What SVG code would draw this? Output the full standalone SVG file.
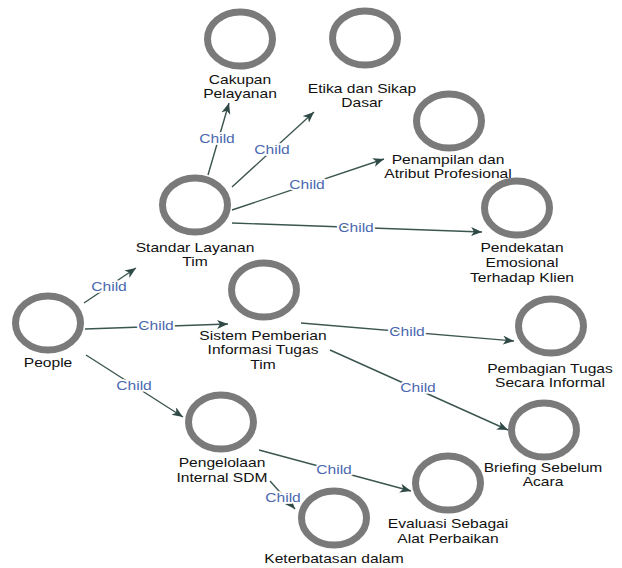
<svg xmlns="http://www.w3.org/2000/svg" width="622" height="568" viewBox="0 0 622 568">
<style>
.ring{fill:#fff;stroke:#7a7a7a;stroke-width:7}
.lbl{font-family:"Liberation Sans",Arial,sans-serif;font-size:13px;fill:#111;text-anchor:middle}
.edge{stroke:#3b5550;stroke-width:1.4;fill:none;marker-end:url(#arr)}
.el{font-family:"Liberation Sans",Arial,sans-serif;font-size:13px;fill:#4a68b0;text-anchor:middle;stroke:#fff;stroke-width:3.5;paint-order:stroke;stroke-linejoin:round}
</style>
<defs>
<marker id="arr" markerUnits="userSpaceOnUse" markerWidth="12" markerHeight="10" refX="11" refY="4.5" orient="auto">
<path d="M0,0 L11,4.5 L0,9 L3,4.5 z" fill="#2f4a46"/>
</marker>
</defs>
<rect width="622" height="568" fill="#fff"/>
<g id="connectors">
<line class="edge" x1="208" y1="175" x2="229" y2="103"/>
<line class="edge" x1="232" y1="187" x2="314" y2="112"/>
<line class="edge" x1="232" y1="210" x2="384" y2="159"/>
<line class="edge" x1="232" y1="223" x2="482" y2="232"/>
<line class="edge" x1="84" y1="303" x2="136" y2="268"/>
<line class="edge" x1="85" y1="329" x2="228" y2="324"/>
<line class="edge" x1="86" y1="355" x2="183" y2="417"/>
<line class="edge" x1="301" y1="323" x2="514" y2="341"/>
<line class="edge" x1="330" y1="350" x2="508" y2="430"/>
<line class="edge" x1="259" y1="450" x2="411" y2="491"/>
<line class="edge" x1="270" y1="481" x2="295" y2="509"/>
<text class="el" transform="translate(217 143) scale(1.2 1)">Child</text>
<text class="el" transform="translate(272 154) scale(1.2 1)">Child</text>
<text class="el" transform="translate(307 189) scale(1.2 1)">Child</text>
<text class="el" transform="translate(356 232) scale(1.2 1)">Child</text>
<text class="el" transform="translate(109 291) scale(1.2 1)">Child</text>
<text class="el" transform="translate(156 330) scale(1.2 1)">Child</text>
<text class="el" transform="translate(134 390) scale(1.2 1)">Child</text>
<text class="el" transform="translate(407 336) scale(1.2 1)">Child</text>
<text class="el" transform="translate(418 392) scale(1.2 1)">Child</text>
<text class="el" transform="translate(334 474) scale(1.2 1)">Child</text>
<text class="el" transform="translate(283 502) scale(1.2 1)">Child</text>
</g>
<g id="people"><ellipse class="ring" cx="48" cy="323" rx="32.5" ry="27"/><text class="lbl" transform="translate(48 367) scale(1.2 1)">People</text></g>
<g id="standar"><ellipse class="ring" cx="195" cy="205" rx="32.5" ry="27"/><text class="lbl" transform="translate(195 252) scale(1.2 1)"><tspan x="0">Standar Layanan</tspan><tspan x="0" dy="14">Tim</tspan></text></g>
<g id="cakupan"><ellipse class="ring" cx="240" cy="39" rx="32.5" ry="27"/><text class="lbl" transform="translate(240 84) scale(1.2 1)"><tspan x="0">Cakupan</tspan><tspan x="0" dy="14">Pelayanan</tspan></text></g>
<g id="etika"><ellipse class="ring" cx="365" cy="38" rx="32.5" ry="27"/><text class="lbl" transform="translate(362 93) scale(1.2 1)"><tspan x="0">Etika dan Sikap</tspan><tspan x="0" dy="14">Dasar</tspan></text></g>
<g id="penampilan"><ellipse class="ring" cx="449" cy="121" rx="32.5" ry="27"/><text class="lbl" transform="translate(448 164) scale(1.2 1)"><tspan x="0">Penampilan dan</tspan><tspan x="0" dy="14">Atribut Profesional</tspan></text></g>
<g id="pendekatan"><ellipse class="ring" cx="517" cy="208" rx="32.5" ry="27"/><text class="lbl" transform="translate(522 252) scale(1.2 1)"><tspan x="0">Pendekatan</tspan><tspan x="0" dy="15">Emosional</tspan><tspan x="0" dy="15">Terhadap Klien</tspan></text></g>
<g id="sistem"><ellipse class="ring" cx="264" cy="290" rx="32.5" ry="27"/><text class="lbl" transform="translate(263 340) scale(1.2 1)"><tspan x="0">Sistem Pemberian</tspan><tspan x="0" dy="14">Informasi Tugas</tspan><tspan x="0" dy="15">Tim</tspan></text></g>
<g id="pembagian"><ellipse class="ring" cx="551" cy="326" rx="32.5" ry="27"/><text class="lbl" transform="translate(550 373) scale(1.2 1)"><tspan x="0">Pembagian Tugas</tspan><tspan x="0" dy="14">Secara Informal</tspan></text></g>
<g id="briefing"><ellipse class="ring" cx="544" cy="430" rx="32.5" ry="27"/><text class="lbl" transform="translate(543 472) scale(1.2 1)"><tspan x="0">Briefing Sebelum</tspan><tspan x="0" dy="14">Acara</tspan></text></g>
<g id="pengelolaan"><ellipse class="ring" cx="221" cy="422" rx="32.5" ry="27"/><text class="lbl" transform="translate(222 467) scale(1.2 1)"><tspan x="0">Pengelolaan</tspan><tspan x="0" dy="15">Internal SDM</tspan></text></g>
<g id="evaluasi"><ellipse class="ring" cx="448" cy="483" rx="32.5" ry="27"/><text class="lbl" transform="translate(448 528) scale(1.2 1)"><tspan x="0">Evaluasi Sebagai</tspan><tspan x="0" dy="15">Alat Perbaikan</tspan></text></g>
<g id="keterbatasan"><ellipse class="ring" cx="334" cy="518" rx="32.5" ry="27"/><text class="lbl" transform="translate(334 563) scale(1.2 1)">Keterbatasan dalam</text></g>
</svg>
